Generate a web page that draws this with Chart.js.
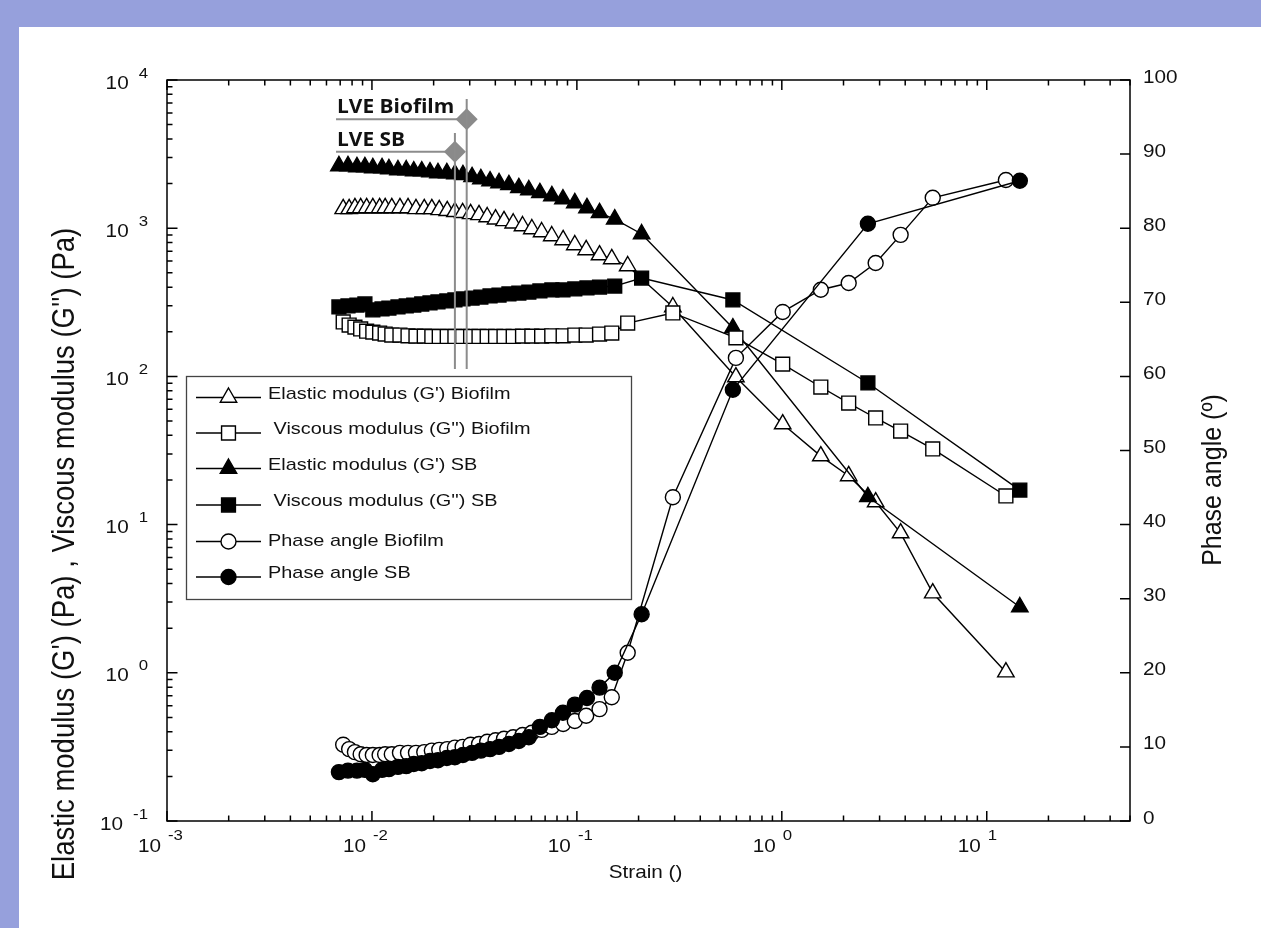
<!DOCTYPE html>
<html>
<head>
<meta charset="utf-8">
<script src="https://cdn.jsdelivr.net/npm/chart.js@4.4.1/dist/chart.umd.min.js"></script>
<style>
  html, body { margin: 0; padding: 0; background: #96a0dc; }
  #rheoChart { display: block; }
</style>
</head>
<body>
<canvas id="rheoChart" width="1261" height="928"></canvas>
<script>
// strain of each measured point (x axis)
var strainBiofilm = [0.00724, 0.00774, 0.00826, 0.00881, 0.00942, 0.0101, 0.0109, 0.0116, 0.0125, 0.0137,
  0.0150, 0.0164, 0.0180, 0.0196, 0.0213, 0.0233, 0.0254, 0.0277, 0.0303, 0.0333,
  0.0365, 0.0401, 0.0441, 0.0489, 0.0543, 0.0603, 0.0673, 0.0754, 0.0857, 0.0977,
  0.111, 0.129, 0.148, 0.177, 0.294, 0.597, 1.01, 1.55, 2.12, 2.87, 3.80, 5.45, 12.4];
var strainSB = [0.0069, 0.00764, 0.00845, 0.00924, 0.0101, 0.0112, 0.0121, 0.0134, 0.0147, 0.0160,
  0.0175, 0.0192, 0.0210, 0.0232, 0.0254, 0.0278, 0.0308, 0.0340, 0.0377, 0.0417,
  0.0466, 0.0521, 0.0583, 0.0660, 0.0755, 0.0855, 0.0977, 0.112, 0.129, 0.153,
  0.207, 0.577, 2.63, 14.5];

// moduli in Pa (left axis)
var elasticBiofilm = [1350, 1350, 1370, 1370, 1370, 1370, 1370, 1370, 1370, 1370,
  1370, 1350, 1350, 1350, 1330, 1310, 1290, 1270, 1250, 1230,
  1190, 1150, 1120, 1080, 1035, 988, 943, 886, 833, 770,
  713, 659, 620, 556, 294, 99, 47.7, 29.0, 21.3, 14.2, 8.77, 3.45, 1.01];
var viscousBiofilm = [233, 222, 215, 209, 202, 199, 196, 193, 190, 190,
  188, 187, 187, 186, 186, 186, 186, 186, 186, 186,
  186, 186, 186, 186, 187, 187, 187, 188, 188, 190,
  190, 193, 196, 229, 268, 182, 121, 84.8, 66.1, 52.4, 42.8, 32.4, 15.6];
var elasticSB = [2630, 2630, 2590, 2590, 2550, 2550, 2510, 2470, 2470, 2430,
  2430, 2390, 2360, 2360, 2320, 2290, 2220, 2150, 2080, 2020,
  1960, 1870, 1810, 1730, 1650, 1570, 1480, 1370, 1270, 1150,
  914, 212, 15.4, 2.78];
var viscousSB = [294, 299, 303, 308, 281, 285, 289, 294, 299, 303,
  308, 313, 318, 323, 328, 333, 338, 343, 349, 354,
  360, 365, 371, 377, 383, 383, 389, 395, 401, 407,
  461, 328, 90.3, 17.1];

// phase angle in degrees (right axis)
var phaseBiofilm = [10.3, 9.7, 9.3, 9.0, 8.9, 8.9, 8.9, 9.0, 9.0, 9.2,
  9.2, 9.2, 9.3, 9.5, 9.6, 9.7, 9.9, 10.0, 10.3, 10.4,
  10.7, 10.9, 11.1, 11.3, 11.6, 11.9, 12.3, 12.7, 13.1, 13.5,
  14.2, 15.1, 16.7, 22.7, 43.7, 62.5, 68.7, 71.7, 72.6, 75.3, 79.1, 84.1, 86.5];
var phaseSB = [6.6, 6.8, 6.8, 6.9, 6.3, 6.9, 7.0, 7.3, 7.4, 7.7,
  7.8, 8.1, 8.2, 8.5, 8.6, 8.9, 9.2, 9.5, 9.7, 10.0,
  10.4, 10.8, 11.3, 12.7, 13.6, 14.6, 15.7, 16.6, 18.0, 20.0,
  27.9, 58.2, 80.6, 86.4];

var seriesLabels = ["Elastic modulus (G') Biofilm", " Viscous modulus (G'') Biofilm",
  "Elastic modulus (G') SB", " Viscous modulus (G'') SB",
  "Phase angle Biofilm", "Phase angle SB"];

var strainExponents = [-3, -2, -1, 0, 1];
var modulusExponents = [-1, 0, 1, 2, 3, 4];
var phaseTicks = [0, 10, 20, 30, 40, 50, 60, 70, 80, 90, 100];

// linear viscoelastic limits: Biofilm, SB
var lveLabels = ['LVE Biofilm', 'LVE SB'];
var lveStrain = [0.029, 0.0254];
var lveModulus = [5430, 3280];
var lveTop = [7450, 4390];
var lveBottom = 112;
var lveLabelStart = 0.00668;

function pts(xs, ys) {
  return xs.map(function (x, i) { return { x: x, y: ys[i] }; });
}

function series(label, xs, ys, axis, style, fill, radius, order) {
  return {
    label: label,
    data: pts(xs, ys),
    yAxisID: axis,
    showLine: true,
    borderColor: '#000',
    borderWidth: 1.4,
    pointStyle: style,
    pointRadius: radius,
    pointBackgroundColor: fill,
    pointBorderColor: '#000',
    pointBorderWidth: 1.4,
    order: order
  };
}

function lveLine(xA, yA, xB, yB, marker) {
  return {
    data: [{ x: xA, y: yA }, { x: xB, y: yB }],
    yAxisID: 'y',
    showLine: true,
    borderColor: '#8c8c8c',
    borderWidth: 2,
    pointStyle: 'rectRot',
    pointRadius: marker ? [0, 11] : 0,
    pointBackgroundColor: '#8a8a8a',
    pointBorderWidth: 0,
    order: 0
  };
}

var datasets = [
  series(seriesLabels[0], strainBiofilm, elasticBiofilm, 'y', 'triangle', '#fff', 9.5, 6),
  series(seriesLabels[1], strainBiofilm, viscousBiofilm, 'y', 'rect', '#fff', 9.8, 4),
  series(seriesLabels[2], strainSB, elasticSB, 'y', 'triangle', '#000', 9.5, 5),
  series(seriesLabels[3], strainSB, viscousSB, 'y', 'rect', '#000', 9.8, 3),
  series(seriesLabels[4], strainBiofilm, phaseBiofilm, 'y1', 'circle', '#fff', 7.5, 2),
  series(seriesLabels[5], strainSB, phaseSB, 'y1', 'circle', '#000', 7.5, 1),
  lveLine(lveStrain[0], lveTop[0], lveStrain[0], lveBottom, false),
  lveLine(lveStrain[1], lveTop[1], lveStrain[1], lveBottom, false),
  lveLine(lveLabelStart, lveModulus[0], lveStrain[0], lveModulus[0], true),
  lveLine(lveLabelStart, lveModulus[1], lveStrain[1], lveModulus[1], true)
];

var TXT = "'Liberation Sans', Arial, sans-serif";
var STRETCH = 1.12;

function putText(ctx, str, x, y, font, align, stretch) {
  ctx.save();
  ctx.font = font;
  ctx.textBaseline = 'alphabetic';
  ctx.textAlign = 'left';
  var w = ctx.measureText(str).width * stretch;
  var left = x;
  if (align === 'center') left = x - w / 2;
  if (align === 'right') left = x - w;
  ctx.translate(left, y);
  ctx.scale(stretch, 1);
  ctx.fillText(str, 0, 0);
  ctx.restore();
  return w;
}

function putVertical(ctx, str, x, y, font) {
  ctx.save();
  ctx.font = font;
  ctx.textAlign = 'center';
  ctx.textBaseline = 'middle';
  ctx.translate(x, y);
  ctx.rotate(-Math.PI / 2);
  ctx.scale(1, STRETCH);
  ctx.fillText(str, 0, 0);
  ctx.restore();
}

var decor = {
  id: 'decor',
  beforeDraw: function (chart) {
    var ctx = chart.ctx;
    ctx.save();
    ctx.fillStyle = '#96a0dc';
    ctx.fillRect(0, 0, chart.width, chart.height);
    ctx.fillStyle = '#ffffff';
    ctx.fillRect(19, 27, chart.width - 19, chart.height - 27);
    ctx.restore();
  },
  afterDraw: function (chart) {
    var ctx = chart.ctx;
    var a = chart.chartArea;
    var xs = chart.scales.x, ys = chart.scales.y, ps = chart.scales.y1;
    var mainFont = '18.5px ' + TXT, supFont = '15px ' + TXT;
    ctx.save();

    // frame and inward ticks
    ctx.strokeStyle = '#000';
    ctx.lineWidth = 1.5;
    ctx.strokeRect(a.left, a.top, a.right - a.left, a.bottom - a.top);
    ctx.beginPath();
    var d, m, v, p, len;
    for (d = strainExponents[0]; d <= strainExponents[strainExponents.length - 1]; d++) {
      for (m = 1; m <= 9; m++) {
        v = m * Math.pow(10, d);
        if (v > xs.max * 1.0001) break;
        p = xs.getPixelForValue(v);
        len = m === 1 ? 10 : 5.5;
        ctx.moveTo(p, a.bottom); ctx.lineTo(p, a.bottom - len);
        ctx.moveTo(p, a.top); ctx.lineTo(p, a.top + len);
      }
    }
    for (d = modulusExponents[0]; d <= modulusExponents[modulusExponents.length - 1]; d++) {
      for (m = 1; m <= 9; m++) {
        v = m * Math.pow(10, d);
        if (v > ys.max * 1.0001) break;
        p = ys.getPixelForValue(v);
        len = m === 1 ? 10.5 : 5.5;
        ctx.moveTo(a.left, p); ctx.lineTo(a.left + len, p);
      }
    }
    phaseTicks.forEach(function (t) {
      var q = ps.getPixelForValue(t);
      ctx.moveTo(a.right, q); ctx.lineTo(a.right - 10, q);
    });
    ctx.stroke();

    // tick labels
    ctx.fillStyle = '#111';
    modulusExponents.forEach(function (e) {
      var q = ys.getPixelForValue(Math.pow(10, e));
      var w = putText(ctx, String(e), a.left - 19, q - 2.5, supFont, 'right', STRETCH);
      putText(ctx, '10', a.left - 19 - w - 10, q + 8.5, mainFont, 'right', STRETCH);
    });
    strainExponents.forEach(function (e) {
      var q = xs.getPixelForValue(Math.pow(10, e));
      putText(ctx, '10', q - 6, 852, mainFont, 'right', STRETCH);
      putText(ctx, String(e), q + 1, 840, supFont, 'left', STRETCH);
    });
    phaseTicks.forEach(function (t) {
      var q = ps.getPixelForValue(t);
      putText(ctx, String(t), a.right + 13, q + 2.5, mainFont, 'left', STRETCH);
    });

    // axis titles
    putText(ctx, 'Strain ()', (a.left + a.right) / 2 - 3, 878, '18.5px ' + TXT, 'center', STRETCH);
    putVertical(ctx, 'Phase angle (\u00ba)', 1213, 480, '25px ' + TXT);
    putVertical(ctx, "Elastic modulus (G') (Pa) , Viscous modulus (G'') (Pa)", 66, 554, '27.5px ' + TXT);

    // LVE labels
    ctx.fillStyle = '#111';
    var lx = xs.getPixelForValue(lveLabelStart) + 1;
    lveLabels.forEach(function (t, i) {
      var q = ys.getPixelForValue(lveModulus[i]);
      putText(ctx, t, lx, q - 6, 'bold 19px "Open Sans", "Noto Sans", sans-serif', 'left', 1.1);
    });

    // legend box
    var box = { left: 186, top: 376, right: 631, bottom: 599 };
    var rows = [397.5, 433, 468.5, 505, 541.5, 577];
    var textRows = [393.3, 428.3, 464, 500.3, 540.3, 571.7];
    ctx.fillStyle = '#fff';
    ctx.fillRect(box.left, box.top, box.right - box.left, box.bottom - box.top);
    ctx.strokeStyle = '#444';
    ctx.lineWidth = 1.3;
    ctx.strokeRect(box.left + 0.5, box.top + 0.5, box.right - box.left, box.bottom - box.top);
    for (var i = 0; i < 6; i++) {
      var ds = chart.data.datasets[i];
      ctx.strokeStyle = '#000';
      ctx.lineWidth = 1.4;
      ctx.beginPath();
      ctx.moveTo(196, rows[i]); ctx.lineTo(261, rows[i]);
      ctx.stroke();
      ctx.fillStyle = ds.pointBackgroundColor;
      Chart.helpers.drawPoint(ctx, {
        pointStyle: ds.pointStyle, radius: ds.pointRadius, rotation: 0, borderWidth: 1.4
      }, 228.5, rows[i]);
      ctx.fillStyle = '#111';
      putText(ctx, ds.label, 268, textRows[i] + 6.1, '17px ' + TXT, 'left', 1.17);
    }
    ctx.restore();
  }
};

var ctx = document.getElementById('rheoChart').getContext('2d');
var rheoChart = new Chart(ctx, {
  type: 'scatter',
  data: { datasets: datasets },
  options: {
    responsive: false,
    devicePixelRatio: 1,
    animation: false,
    layout: { padding: { left: 167, right: 131, top: 80, bottom: 107 } },
    scales: {
      x: {
        type: 'logarithmic', min: 0.001, max: 50,
        grid: { display: false, drawTicks: false },
        border: { display: false },
        ticks: { display: false }
      },
      y: {
        type: 'logarithmic', position: 'left', min: 0.1, max: 10000,
        grid: { display: false, drawTicks: false },
        border: { display: false },
        ticks: { display: false }
      },
      y1: {
        type: 'linear', position: 'right', min: 0, max: 100,
        grid: { display: false, drawTicks: false },
        border: { display: false },
        ticks: { display: false }
      }
    },
    plugins: {
      legend: { display: false },
      tooltip: { enabled: false }
    }
  },
  plugins: [decor]
});
</script>
</body>
</html>
